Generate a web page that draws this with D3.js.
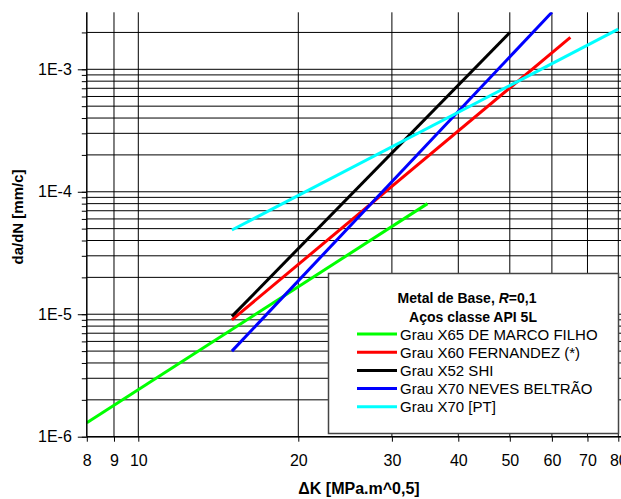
<!DOCTYPE html>
<html><head><meta charset="utf-8">
<script src="https://cdn.jsdelivr.net/npm/d3@7"></script>
<style>
body{margin:0;background:#fff;}
svg{display:block;font-family:Arial,"Liberation Sans",sans-serif;}
</style></head>
<body>
<svg id="chart" width="621" height="499"></svg>
<script>
// ---- data ----
const xTicks = [8, 9, 10, 20, 30, 40, 50, 60, 70, 80];
const yMajorTicks = [1e-6, 1e-5, 1e-4, 1e-3];
const yTickLabels = ["1E-6", "1E-5", "1E-4", "1E-3"];
const yGridValues = [
  1e-6,2e-6,3e-6,4e-6,5e-6,6e-6,7e-6,8e-6,9e-6,
  1e-5,2e-5,3e-5,4e-5,5e-5,6e-5,7e-5,8e-5,9e-5,
  1e-4,2e-4,3e-4,4e-4,5e-4,6e-4,7e-4,8e-4,9e-4,
  1e-3,2e-3
];
const seriesNames = ["Grau X65 DE MARCO FILHO","Grau X60 FERNANDEZ (*)","Grau X52 SHI","Grau X70 NEVES BELTRÃO","Grau X70 [PT]"];
const seriesColors = ["#00ff00","#ff0000","#000000","#0000ff","#00ffff"];
const x65DeMarco = [[8, 1.30e-6],[35, 8.0e-5]];
const x60Fernandez = [[15, 9.0e-6],[65, 1.82e-3]];
const x52Shi = [[15, 9.6e-6],[50, 2.0e-3]];
const x70Neves = [[15, 5.0e-6],[60, 2.92e-3]];
const x70PT = [[15, 4.87e-5],[80, 2.13e-3]];
const seriesData = [x65DeMarco, x60Fernandez, x52Shi, x70Neves, x70PT];

// ---- layout ----
const L = 86.8, R = 621, T = 12.3, B = 436.7;
const svg = d3.select("#chart");
const x = d3.scaleLog().domain([8, 80]).range([L, 618.3]);
const y = d3.scaleLog().domain([1e-6, 1e-3]).range([B, 69.3]);

// grid
const grid = svg.append("g");
grid.selectAll("line.h").data(yGridValues).join("line")
  .attr("x1", L).attr("x2", R).attr("y1", d => y(d)).attr("y2", d => y(d))
  .attr("stroke", "#000").attr("stroke-width", 1);
grid.selectAll("line.v").data(xTicks.slice(1)).join("line")
  .attr("x1", d => x(d)).attr("x2", d => x(d)).attr("y1", T).attr("y2", B)
  .attr("stroke", "#000").attr("stroke-width", 1);

// clip
svg.append("clipPath").attr("id","clip").append("rect")
  .attr("x", L).attr("y", T).attr("width", R - L).attr("height", B - T);

const line = d3.line().x(d => x(d[0])).y(d => y(d[1]));
svg.append("g").attr("clip-path","url(#clip)")
  .selectAll("path").data(seriesData).join("path")
  .attr("d", line).attr("fill","none")
  .attr("stroke", (d,i) => seriesColors[i]).attr("stroke-width", 3);

// axes
const xAxis = d3.axisBottom(x).tickValues(xTicks).tickFormat(d3.format("d"))
  .tickSize(5).tickPadding(13);
const gx = svg.append("g").attr("transform", `translate(0,${B})`).call(xAxis);
gx.select(".domain").attr("d", `M${L},0H${R}`).attr("stroke-width",1.5);
gx.selectAll("text").attr("font-size", 16).attr("fill","#000");

const yAxisMinor = d3.axisLeft(y).tickValues(yGridValues).tickFormat("").tickSize(5);
const gym = svg.append("g").attr("transform", `translate(${L},0)`).call(yAxisMinor);
gym.select(".domain").remove();

const yAxis = d3.axisLeft(y).tickValues(yMajorTicks)
  .tickFormat((d,i) => yTickLabels[i]).tickSize(9).tickPadding(6);
const gy = svg.append("g").attr("transform", `translate(${L},0)`).call(yAxis);
gy.select(".domain").attr("d", `M0,${T}V${B}`).attr("stroke-width",1.5);
gy.selectAll("text").attr("font-size", 16).attr("fill","#000");
svg.selectAll(".tick line").attr("stroke","#000");
svg.selectAll(".domain").attr("stroke","#000");

// axis titles
svg.append("text").attr("x", 359).attr("y", 494).attr("text-anchor","middle")
  .attr("font-size", 16).attr("font-weight","bold").text("ΔK [MPa.m^0,5]");
svg.append("text").attr("transform","translate(23,217) rotate(-90)").attr("text-anchor","middle")
  .attr("font-size", 15).attr("font-weight","bold").text("da/dN [mm/c]");

// legend
const lg = svg.append("g");
lg.append("rect").attr("x", 328.5).attr("y", 273.5).attr("width", 290).attr("height", 160)
  .attr("fill","#fff").attr("stroke","#444").attr("stroke-width",1.5);
const t1 = lg.append("text").attr("x", 467).attr("y", 303).attr("text-anchor","middle")
  .attr("font-size", 14).attr("font-weight","bold");
t1.append("tspan").text("Metal de Base, ");
t1.append("tspan").attr("font-style","italic").text("R");
t1.append("tspan").text("=0,1");
lg.append("text").attr("x", 473).attr("y", 322).attr("text-anchor","middle")
  .attr("font-size", 14).attr("font-weight","bold").text("Aços classe API 5L");
const items = lg.selectAll("g.item").data(seriesNames).join("g")
  .attr("transform", (d,i) => `translate(0,${334 + i*18.2})`);
items.append("line").attr("x1", 357).attr("x2", 397).attr("y1", 0).attr("y2", 0)
  .attr("stroke", (d,i) => seriesColors[i]).attr("stroke-width", 3);
items.append("text").attr("x", 400).attr("y", 5.5).attr("font-size", 15).text(d => d);
</script>
</body></html>
